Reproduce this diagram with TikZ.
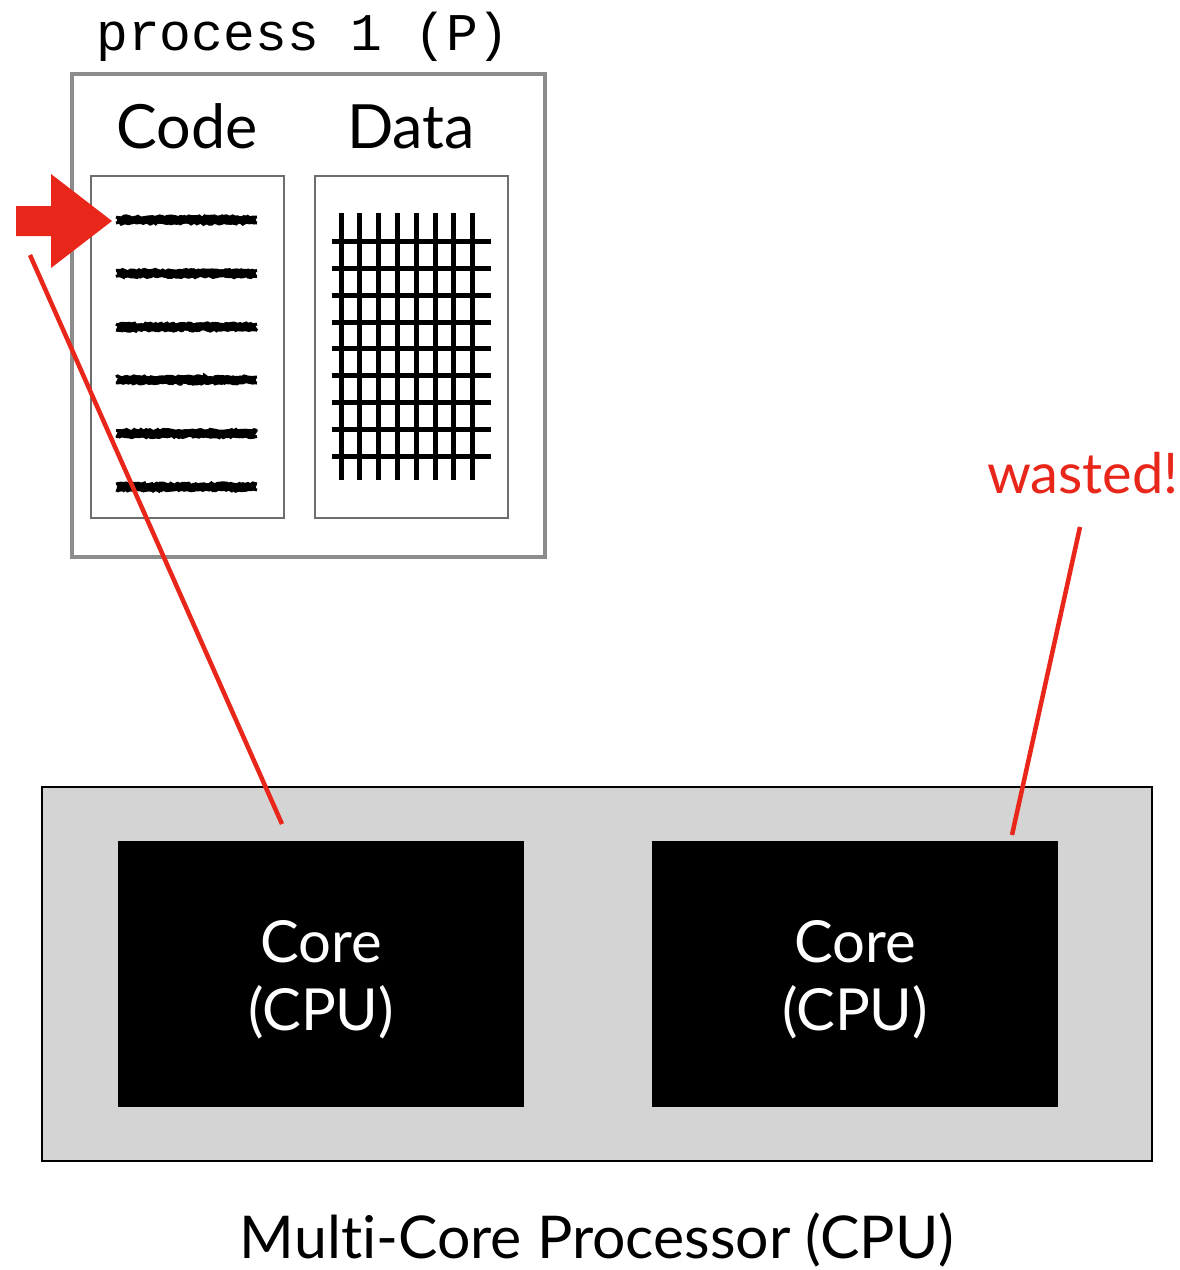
\documentclass[tikz,border=0pt]{standalone}
\usepackage{fontspec}
\setmainfont{Lato}[Ligatures=NoCommon]
\setmonofont{Liberation Mono}
\usetikzlibrary{decorations.pathmorphing}
\definecolor{alertred}{HTML}{E8261A}
\definecolor{outergray}{HTML}{8C8C8C}
\definecolor{innergray}{HTML}{6E6E6E}
\definecolor{chipgray}{HTML}{D4D4D4}
\newcommand{\fs}[1]{\fontsize{#1}{#1}\selectfont}
\begin{document}
\begin{tikzpicture}[x=1pt,y=-1pt,
  panel/.style={draw=innergray,line width=2,minimum width=193,minimum height=342,inner sep=0},
  corebox/.style={fill=black,minimum width=406,minimum height=266,inner sep=0},
  corelabel/.style={text=white,anchor=base,font=\fs{58}},
  heading/.style={anchor=base,font=\fs{61}},
  codeline/.style={line width=7,decorate,decoration={random steps,segment length=2.5,amplitude=1.2}},
  gridline/.style={line width=5},
  redline/.style={draw=alertred,line width=4.5}]
\useasboundingbox (0,0) rectangle (1179,1270);
\pgfmathsetseed{7}

% process container
\node[draw=outergray,line width=4,minimum width=473,minimum height=483,inner sep=0] (proc) at (308.5,315.5) {};
\node[anchor=base,font=\ttfamily\fs{53}] (ptitle) at (303,50) {process 1 (P)};
\node[heading] (codelbl) at (187,148) {Code};
\node[heading] (datalbl) at (411,148) {Data};
\node[panel] (code) at (187.5,347) {};
\node[panel] (data) at (411.5,347) {};

% scribbled code lines
\foreach \y in {220,273.5,327,380,433.5,487}{
  \draw[codeline] (117,\y) -- (256,\y);
  \draw[codeline,line width=3] (116,\y-3) -- (257,\y-3);
  \draw[codeline,line width=3] (116,\y+3) -- (257,\y+3);
}

% data grid
\foreach \x in {341,359.8,378.6,397.4,416.2,435,453.8,472.6}
  \draw[gridline] (\x,213) -- (\x,480);
\foreach \y in {241.7,268.5,295.3,322.1,348.9,375.7,402.5,429.3,456}
  \draw[gridline] (331.5,\y) -- (491,\y);

% program counter arrow
\fill[alertred] (16,206) -- (51,206) -- (51,174) -- (112,221) -- (51,268) -- (51,236) -- (16,236) -- cycle;

% processor with two cores
\node[fill=chipgray,draw=black,line width=2,minimum width=1110,minimum height=374,inner sep=0] (cpu) at (597,974) {};
\node[corebox] (core1) at (321,974) {};
\node[corebox] (core2) at (855,974) {};
\node[corelabel] (c1a) at (321,962) {Core};
\node[corelabel] (c1b) at (321,1030) {(CPU)};
\node[corelabel] (c2a) at (855,962) {Core};
\node[corelabel] (c2b) at (855,1030) {(CPU)};
\node[anchor=base,font=\fs{59}] (cpulbl) at (597,1258) {Multi-Core Processor (CPU)};

% wasted core annotation
\node[anchor=base,text=alertred,font=\fs{56}] (wasted) at (1083,493) {wasted!};
\coordinate (pcend) at (30,255);
\coordinate (core1top) at (282,824);
\coordinate (wastedfoot) at (1080,527);
\coordinate (core2top) at (1012,835);
\draw[redline] (core1top) -- (pcend);
\draw[redline] (wastedfoot) -- (core2top);
\end{tikzpicture}
\end{document}
